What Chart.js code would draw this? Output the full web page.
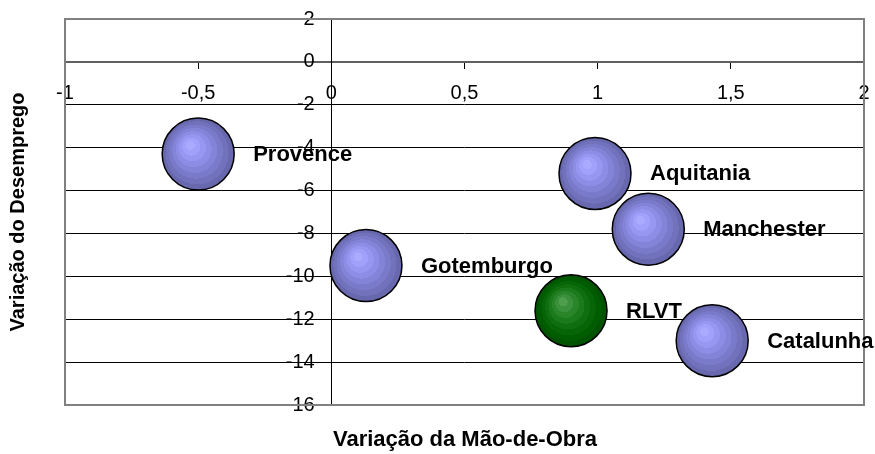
<!DOCTYPE html>
<html>
<head>
<meta charset="utf-8">
<script src="https://cdn.jsdelivr.net/npm/chart.js@4"></script>
<style>
  html, body { margin: 0; padding: 0; background: #fff; }
  #wrap { width: 875px; height: 454px; position: relative; }
</style>
</head>
<body>
<div id="wrap"><canvas id="bubbles"></canvas></div>
<script>
// regions (blue) and the home region RLVT (green)
const regionNames = ['Provence', 'Gotemburgo', 'Aquitania', 'Manchester', 'Catalunha'];
const regionMaoDeObra = [-0.5, 0.13, 0.99, 1.19, 1.43];
const regionDesemprego = [-4.3, -9.5, -5.2, -7.8, -13.0];

const rlvtNames = ['RLVT'];
const rlvtMaoDeObra = [0.9];
const rlvtDesemprego = [-11.6];

const xTicks = [-1, -0.5, 0, 0.5, 1, 1.5, 2];
const yTicks = [2, 0, -2, -4, -6, -8, -10, -12, -14, -16];

const xTitle = 'Variação da Mão-de-Obra';
const yTitle = 'Variação do Desemprego';

const FONT = '"Liberation Sans", Arial, sans-serif';
const BUBBLE_R = 36;

// stepped shades, from highlight out to rim
const blueRings = ['#aaaaff', '#a1a1fc', '#9797f2', '#8d8de6', '#8383d8', '#7a7aca', '#7171bc', '#6868ae'];
const greenRings = ['#4e9e4e', '#3b913b', '#2a852a', '#1b7a1b', '#0f6f0f', '#066506', '#005c00', '#005300'];

function toPoints(xs, ys) {
  return xs.map((x, i) => ({ x: x, y: ys[i] }));
}

function ballFill(rings) {
  return (ctx) => {
    if (ctx.type !== 'data' || !ctx.raw) return rings[4];
    const chart = ctx.chart;
    const sx = chart.scales.x, sy = chart.scales.y;
    if (!sx || !sy) return rings[4];
    const cx = sx.getPixelForValue(ctx.raw.x);
    const cy = sy.getPixelForValue(ctx.raw.y);
    if (!isFinite(cx) || !isFinite(cy)) return rings[4];
    const g = chart.ctx.createRadialGradient(cx - 9, cy - 10, 0, cx, cy, BUBBLE_R);
    const n = rings.length;
    rings.forEach((c, i) => {
      g.addColorStop(i / n, c);
      g.addColorStop(Math.min(1, (i + 1) / n - 0.001), c);
    });
    return g;
  };
}

// axes cross inside the plot, so they shouldn't push the plot edges in
function noEdgePadding(s) {
  s.paddingLeft = 0;
  s.paddingRight = 0;
  s.paddingTop = 0;
  s.paddingBottom = 0;
}

// grey frame round the plot area
const frame = {
  id: 'frame',
  beforeDatasetsDraw(chart) {
    const a = chart.chartArea, c = chart.ctx;
    c.save();
    c.strokeStyle = '#808080';
    c.lineWidth = 2;
    c.strokeRect(a.left, a.top, a.right - a.left, a.bottom - a.top);
    c.restore();
  }
};

// region names to the right of each bubble, drawn right after its dataset
const bubbleNames = {
  id: 'bubbleNames',
  afterDatasetDraw(chart, args) {
    const ds = chart.data.datasets[args.index];
    const meta = chart.getDatasetMeta(args.index);
    const c = chart.ctx;
    c.save();
    c.font = 'bold 22px ' + FONT;
    c.fillStyle = '#000';
    c.textBaseline = 'middle';
    c.textAlign = 'left';
    meta.data.forEach((el, i) => {
      c.fillText(ds.names[i], el.x + BUBBLE_R + 19, el.y + 1);
    });
    c.restore();
  }
};

// axis titles sit at the outer edges, away from the crossing axes
const axisTitles = {
  id: 'axisTitles',
  afterDraw(chart) {
    const c = chart.ctx;
    c.save();
    c.fillStyle = '#000';
    c.textAlign = 'center';
    c.textBaseline = 'middle';
    c.font = 'bold 22px ' + FONT;
    c.fillText(xTitle, 465, 440);
    c.translate(18, 212);
    c.rotate(-Math.PI / 2);
    c.font = 'bold 20px ' + FONT;
    c.fillText(yTitle, 0, 0);
    c.restore();
  }
};

const commaNum = (v) => String(v).replace('.', ',');
// a centred y axis puts its labels flush against the line, so pad them with spaces
const yLabel = (v) => commaNum(v) + '   ';

new Chart('bubbles', {
  type: 'bubble',
  data: {
    datasets: [
      {
        label: 'RLVT',
        names: rlvtNames,
        data: toPoints(rlvtMaoDeObra, rlvtDesemprego),
        radius: BUBBLE_R,
        backgroundColor: ballFill(greenRings),
        borderColor: '#000',
        borderWidth: 1.5,
        order: 2
      },
      {
        label: 'Regiões',
        names: regionNames,
        data: toPoints(regionMaoDeObra, regionDesemprego),
        radius: BUBBLE_R,
        backgroundColor: ballFill(blueRings),
        borderColor: '#000',
        borderWidth: 1.5,
        order: 1
      }
    ]
  },
  options: {
    responsive: true,
    maintainAspectRatio: false,
    animation: false,
    // bubbles may overhang the frame; keep the plot box fixed
    layout: { autoPadding: false, padding: { left: 65, top: 19, right: 11, bottom: 49 } },
    plugins: {
      legend: { display: false },
      tooltip: { enabled: false }
    },
    scales: {
      x: {
        type: 'linear',
        position: { y: 0 },
        min: xTicks[0],
        max: xTicks[xTicks.length - 1],
        afterBuildTicks: (s) => { s.ticks = xTicks.map(v => ({ value: v })); },
        afterFit: noEdgePadding,
        ticks: {
          color: '#000',
          padding: 14,
          font: { family: FONT, size: 20 },
          callback: commaNum,
          maxRotation: 0,
          autoSkip: false
        },
        grid: { drawOnChartArea: false, drawTicks: true, tickLength: 6, color: '#000' },
        border: { display: true, color: '#606060', width: 2 }
      },
      y: {
        type: 'linear',
        position: { x: 0 },
        min: yTicks[yTicks.length - 1],
        max: yTicks[0],
        afterBuildTicks: (s) => { s.ticks = yTicks.slice().reverse().map(v => ({ value: v })); },
        afterFit: noEdgePadding,
        ticks: {
          color: '#000',
          padding: 3,
          font: { family: FONT, size: 20 },
          callback: yLabel,
          autoSkip: false
        },
        grid: { color: '#000', lineWidth: 1, tickLength: 7 },
        border: { display: true, color: '#000', width: 1 }
      }
    }
  },
  plugins: [frame, bubbleNames, axisTitles]
});
</script>
</body>
</html>
